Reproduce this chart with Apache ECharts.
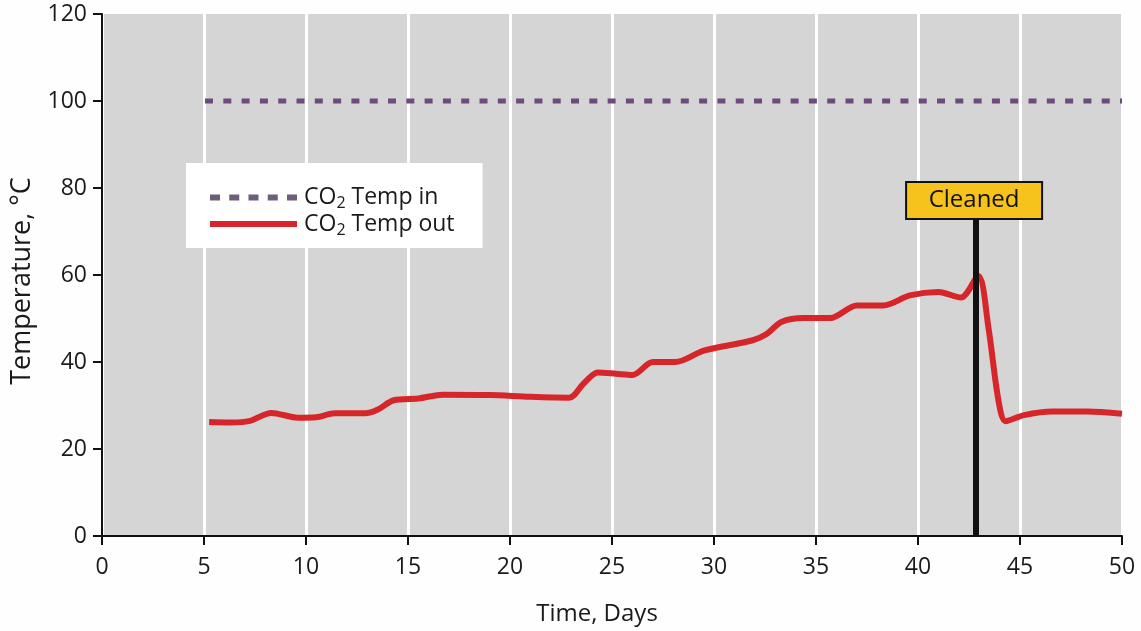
<!DOCTYPE html>
<html>
<head>
<meta charset="utf-8">
<script src="https://cdn.jsdelivr.net/npm/echarts@6/dist/echarts.min.js"></script>
<style>
html,body{margin:0;padding:0;background:#fefefe;overflow:hidden;}
#chart{width:1141px;height:631px;}
</style>
</head>
<body>
<div id="chart"></div>
<script>
// ---- data ----
const xTicks = [0, 50, 5];           // min, max, interval (days)
const yTicks = [0, 120, 20];         // min, max, interval (°C)
const seriesInName = 'CO2 Temp in';
const seriesOutName = 'CO2 Temp out';
const tempIn = [[5.05, 100], [50, 100]];
const tempOut = [
  [5.25, 26.2], [6.3, 26.1], [7.2, 26.4], [8.3, 28.3], [9.6, 27.2], [10.5, 27.3],
  [11.4, 28.2], [12.9, 28.2], [13.5, 29], [14.3, 31.2], [15.5, 31.6], [16.7, 32.5],
  [19, 32.4], [21, 32], [22.9, 31.8], [23.6, 35], [24.3, 37.6], [25.2, 37.3],
  [26, 37], [27, 40], [28.1, 40], [29.5, 42.6], [31.9, 45], [32.6, 46.5],
  [33.3, 49.2], [34.4, 50.1], [35.7, 50.1], [37, 53], [38.3, 53], [39.6, 55.3],
  [41, 56.1], [42.1, 54.8], [42.95, 59.8], [43.45, 48], [43.95, 31], [44.3, 26.4],
  [45.2, 27.8], [46.6, 28.6], [48.3, 28.6], [50, 28.1]
];
const cleanedDay = 42.84;
const cleanedLineTop = 72.9;
const cleanedLabel = 'Cleaned';
const cleanedLabelPos = [42.75, 77.1];
const xName = 'Time, Days';
const yName = 'Temperature, °C';

// ---- chart ----
const chart = echarts.init(document.getElementById('chart'), null, {renderer: 'canvas', width: 1141, height: 631});
const font = 'Open Sans';
const dashIcon = 'path://M0,0h10v6h-10zM19.25,0h10v6h-10zM38.5,0h10v6h-10zM57.75,0h10v6h-10zM77,0h10v6h-10z';
const solidIcon = 'path://M0,0h87v6h-87z';
chart.setOption({
  animation: false,
  backgroundColor: '#fefefe',
  textStyle: {fontFamily: font},
  grid: {left: 102, top: 14, width: 1020, height: 525, show: true, backgroundColor: '#d5d5d5', borderWidth: 0},
  legend: {
    data: [
      {name: seriesInName, icon: dashIcon, itemStyle: {color: '#6d5f7a'}},
      {name: seriesOutName, icon: solidIcon, itemStyle: {color: '#d7262a'}}
    ],
    orient: 'vertical',
    left: 186, top: 163,
    backgroundColor: '#ffffff',
    padding: [23, 28, 10, 24],
    itemWidth: 87, itemHeight: 6, itemGap: 1,
    textStyle: {
      fontFamily: font, fontSize: 23, color: '#1a1a1a', padding: [0, 0, 0, 2],
      rich: {sub: {fontFamily: font, fontSize: 16, color: '#1a1a1a', padding: [12, 0, 0, 0]}}
    },
    formatter: n => n.replace('CO2', 'CO{sub|2}')
  },
  xAxis: {
    type: 'value', min: xTicks[0], max: xTicks[1], interval: xTicks[2],
    name: xName, nameLocation: 'middle', nameGap: 66,
    nameTextStyle: {fontFamily: font, fontSize: 24, color: '#1a1a1a', padding: [0, 30, 0, 0]},
    axisLine: {show: true, onZero: false, lineStyle: {color: '#111', width: 2}},
    axisTick: {show: true, inside: false, length: 9, lineStyle: {color: '#111', width: 2}},
    axisLabel: {fontFamily: font, fontSize: 23, color: '#1a1a1a', margin: 20},
    splitLine: {show: true, lineStyle: {color: '#ffffff', width: 3}}
  },
  yAxis: {
    type: 'value', min: yTicks[0], max: yTicks[1], interval: yTicks[2],
    name: yName, nameLocation: 'middle', nameGap: 66,
    nameTextStyle: {fontFamily: font, fontSize: 27, color: '#1a1a1a', padding: [0, 12, 0, 0]},
    axisLine: {show: true, lineStyle: {color: '#111', width: 2}},
    axisTick: {show: true, inside: false, length: 9, lineStyle: {color: '#111', width: 2}},
    axisLabel: {fontFamily: font, fontSize: 23, color: '#1a1a1a', margin: 15},
    splitLine: {show: false}
  },
  series: [
    {
      name: 'cleaned-marker', type: 'line', data: [], silent: true,
      markLine: {
        silent: true, symbol: ['none', 'none'], animation: false,
        label: {show: false},
        lineStyle: {color: '#111', width: 6, type: 'solid'},
        data: [[{coord: [cleanedDay, 0]}, {coord: [cleanedDay, cleanedLineTop]}]]
      },
      markPoint: {
        silent: true, animation: false,
        symbol: 'rect', symbolSize: 1,
        itemStyle: {color: 'rgba(0,0,0,0)'},
        label: {
          show: true, position: 'inside', formatter: cleanedLabel,
          fontFamily: font, fontSize: 24, color: '#111',
          backgroundColor: '#f6c21c', borderColor: '#111', borderWidth: 2,
          width: 134, height: 35, lineHeight: 35, align: 'center', verticalAlign: 'middle'
        },
        data: [{coord: cleanedLabelPos}]
      }
    },
    {
      name: seriesInName, type: 'line', data: tempIn, symbol: 'none',
      lineStyle: {color: '#6b4c7c', width: 5, type: [8, 10.3]},
      itemStyle: {color: '#6b4c7c'}
    },
    {
      name: seriesOutName, type: 'line', data: tempOut, symbol: 'none',
      smooth: 0.3,
      lineStyle: {color: '#d7262a', width: 6},
      itemStyle: {color: '#d7262a'}
    }
  ]
});
</script>
</body>
</html>
